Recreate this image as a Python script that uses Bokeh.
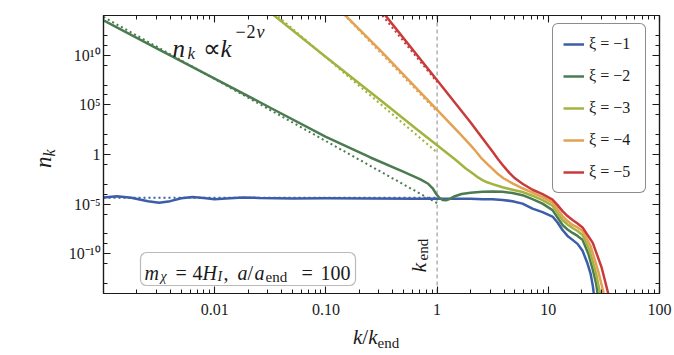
import math
from bokeh.plotting import figure
from bokeh.layouts import column, row
from bokeh.models import (Range1d, FixedTicker, LogAxis, Label, BoxAnnotation, Span, Title,
                          Legend, LegendItem, ColumnDataSource, Div, Spacer)
from bokeh.embed import file_html
from bokeh.resources import INLINE

# ---------------- data (log10 k/k_end, log10 n_k) ----------------
xi_values = [-1, -2, -3, -4, -5]
colors = ["#3c5da8", "#4b7b50", "#a3b340", "#e2a252", "#c93b3b"]

logk_xi1 = [-3.0, -2.88, -2.75, -2.6, -2.5, -2.4, -2.3, -2.2, -2.1, -2.0, -1.9, -1.75, -1.6,
            -1.3, -1.0, -0.6, -0.2, 0.1, 0.3, 0.408, 0.498, 0.588, 0.678, 0.768, 0.858,
            0.948, 1.038, 1.083, 1.128, 1.173, 1.218, 1.263, 1.308, 1.35, 1.38, 1.40, 1.415]
logn_xi1 = [-4.33, -4.2, -4.35, -4.7, -4.86, -4.7, -4.4, -4.28, -4.38, -4.5, -4.42, -4.32, -4.38,
            -4.42, -4.4, -4.42, -4.45, -4.45, -4.45, -4.5, -4.5, -4.58, -4.7, -4.95, -5.45,
            -5.8, -6.25, -6.85, -7.6, -8.2, -8.6, -9.0, -9.7, -10.9, -12.0, -13.2, -14.5]

logk_xi2 = [-3.0, -2.5, -2.0, -1.5, -1.0, -0.6, -0.3, -0.15, -0.08, -0.04, -0.01, 0.02, 0.05,
            0.08, 0.11, 0.16, 0.22, 0.3, 0.408, 0.498, 0.588, 0.678, 0.768, 0.858, 0.948,
            1.038, 1.083, 1.128, 1.173, 1.218, 1.263, 1.308, 1.36, 1.40, 1.43, 1.45]
logn_xi2 = [13.5, 10.57, 7.64, 4.71, 1.78, -0.3, -1.75, -2.5, -2.95, -3.4, -3.95, -4.35, -4.58,
            -4.62, -4.5, -4.2, -3.98, -3.85, -3.75, -3.72, -3.76, -3.87, -4.1, -4.5, -4.95,
            -5.6, -6.35, -7.1, -7.55, -7.9, -8.2, -8.6, -10.0, -11.6, -13.0, -14.5]

logk_xi3 = [-1.6, -1.0, -0.5, -0.2, 0.0, 0.1, 0.157, 0.2, 0.255, 0.318, 0.36, 0.408, 0.45,
            0.498, 0.588, 0.678, 0.768, 0.858, 0.948, 1.038, 1.083, 1.128, 1.173, 1.218,
            1.263, 1.308, 1.37, 1.43, 1.475]
logn_xi3 = [15.2, 9.83, 5.38, 2.7, 0.93, 0.05, -0.45, -0.85, -1.38, -1.9, -2.25, -2.58, -2.8,
            -2.98, -3.3, -3.55, -3.78, -4.15, -4.6, -5.15, -5.9, -6.6, -7.05, -7.4,
            -7.7, -8.1, -9.6, -12.0, -14.5]

logk_xi4 = [-0.9, -0.5, 0.0, 0.2, 0.3, 0.35, 0.4, 0.45, 0.498, 0.55, 0.6, 0.678, 0.768, 0.858,
            0.948, 1.038, 1.083, 1.128, 1.173, 1.218, 1.263, 1.308, 1.38, 1.45, 1.51]
logn_xi4 = [14.85, 10.35, 4.5, 2.15, 0.95, 0.3, -0.4, -0.95, -1.45, -2.0, -2.42, -2.9, -3.4, -3.85,
            -4.3, -4.85, -5.5, -6.2, -6.7, -7.1, -7.35, -7.7, -9.2, -11.8, -14.5]

logk_xi5 = [-0.5, 0.0, 0.2, 0.3, 0.408, 0.498, 0.55, 0.6, 0.65, 0.7, 0.768, 0.858, 0.948,
            1.038, 1.083, 1.128, 1.173, 1.218, 1.263, 1.308, 1.4, 1.48, 1.55]
logn_xi5 = [14.5, 7.47, 4.65, 3.25, 1.64, 0.3, -0.5, -1.2, -1.85, -2.4, -2.95, -3.55, -4.0,
            -4.55, -5.1, -5.7, -6.2, -6.6, -6.95, -7.35, -8.9, -11.4, -14.5]

# dotted asymptotes n_k ∝ k^{-2ν} (end points)
dot_logk = [[-3.0, 0.0], [-3.0, 0.0], [-1.6, 0.0], [-0.9, 0.0], [-0.55, 0.0]]
dot_logn = [[-4.35, -4.35], [13.85, -4.9], [15.53, 0.2], [14.83, 4.3], [14.78, 7.3]]

x_major = [1e-2, 1e-1, 1, 10, 100]
x_labels = {1e-2: "0.01", 1e-1: "0.10", 1: "1", 10: "10", 100: "100"}
y_major = [1e-10, 1e-5, 1, 1e5, 1e10]
y_labels = {1e-10: "10⁻¹⁰", 1e-5: "10⁻⁵", 1: "1", 1e5: "10⁵", 1e10: "10¹⁰"}

solid_logk = [logk_xi1, logk_xi2, logk_xi3, logk_xi4, logk_xi5]
solid_logn = [logn_xi1, logn_xi2, logn_xi3, logn_xi4, logn_xi5]

# ---------------- figure ----------------
FONT = "Liberation Serif"
INK = "#1a1a1a"

p = figure(frame_width=556, frame_height=278, x_axis_type="log", y_axis_type="log",
           x_range=Range1d(1e-3, 1e2), y_range=Range1d(1e-14, 1e14),
           output_backend="svg", toolbar_location=None,
           min_border_left=0, min_border_right=0, min_border_top=0, min_border_bottom=0)
p.xgrid.visible = False
p.ygrid.visible = False
p.outline_line_color = INK
p.outline_line_width = 1.2
p.background_fill_color = "white"
p.border_fill_color = "white"

x_minor = [m * 10.0 ** e for e in range(-3, 2) for m in range(2, 10)]
y_minor = [10.0 ** (5 * m + d) for m in range(-3, 3) for d in (1, 2, 4) if -14 < 5 * m + d < 14]


def style_axis(ax, ticker, labels, standoff):
    ax.ticker = ticker
    ax.major_tick_in = 7
    ax.major_tick_out = 0
    ax.minor_tick_in = 4
    ax.minor_tick_out = 0
    ax.axis_line_color = INK
    ax.axis_line_width = 1.2
    ax.major_tick_line_color = INK
    ax.minor_tick_line_color = INK
    ax.major_tick_line_width = 1.1
    ax.minor_tick_line_width = 1.0
    ax.major_label_text_font = FONT
    ax.major_label_text_font_size = "16px"
    ax.major_label_text_color = INK
    ax.major_label_standoff = standoff
    if labels is None:
        ax.major_label_text_font_size = "1px"
        ax.major_label_text_alpha = 0.0
    else:
        ax.major_label_overrides = labels


style_axis(p.below[0], FixedTicker(ticks=x_major, minor_ticks=x_minor), x_labels, 10)
style_axis(p.left[0], FixedTicker(ticks=y_major, minor_ticks=y_minor), y_labels, 3)

top_ax = LogAxis()
style_axis(top_ax, FixedTicker(ticks=x_major, minor_ticks=x_minor), None, 0)
p.add_layout(top_ax, "above")
right_ax = LogAxis()
style_axis(right_ax, FixedTicker(ticks=y_major, minor_ticks=y_minor), None, 0)
p.add_layout(right_ax, "right")
# blank right-hand strip so that the "100" tick label has room at the canvas edge
p.add_layout(Title(text=" ", text_font_size="11px", standoff=2), "right")

# vertical k = k_end line
p.add_layout(Span(location=1, dimension="height", line_color="#8c8c8c", line_width=1.0,
                  line_dash="4 3", level="underlay"))

# dotted asymptotes
for lk, ln, c in zip(dot_logk, dot_logn, colors):
    src = ColumnDataSource(dict(k=[10.0 ** v for v in lk], n=[10.0 ** v for v in ln]))
    p.line("k", "n", source=src, line_color=c, line_width=2.0, line_dash="2 3")

# solid curves
items = []
for lk, ln, c, xi in zip(solid_logk, solid_logn, colors, xi_values):
    src = ColumnDataSource(dict(k=[10.0 ** v for v in lk], n=[10.0 ** v for v in ln]))
    r = p.line("k", "n", source=src, line_color=c, line_width=2.5, line_join="round")
    items.append(LegendItem(label=f"ξ = −{abs(xi)}", renderers=[r]))

# ---------------- page-pixel -> data helper for annotation placement ----------------
FX0, FX1, FY0, FY1 = 101.0, 657.0, 17.0, 295.0


def at(px, py):
    lk = -3 + (px - FX0) / (FX1 - FX0) * 5
    ln = 14 - (py - FY0) / (FY1 - FY0) * 28
    return 10.0 ** lk, 10.0 ** ln


def put(text, px, py, size, italic=False, angle=0.0):
    x, y = at(px, py)
    p.add_layout(Label(x=x, y=y, text=text, text_font=FONT, text_font_size=f"{size}px",
                       text_font_style="italic" if italic else "normal", text_color=INK,
                       text_align="left", text_baseline="alphabetic", angle=angle))


# annotation box
bl, bt = at(138, 254)
br, bb = at(353, 287)
box_kw = dict(left=bl, right=br, top=bt, bottom=bb, fill_color="white", fill_alpha=1.0,
              line_color=INK, line_width=1.2)
if "border_radius" in BoxAnnotation.properties():
    box_kw["border_radius"] = 6
p.add_layout(BoxAnnotation(**box_kw))

# m_chi = 4 H_I,  a/a_end = 100
put("m", 142, 274, 20, True)
put("χ", 158, 278, 14, True)
put("=", 173, 274, 20)
put("4", 190, 274, 20)
put("H", 200, 274, 20, True)
put("I", 215, 278, 14, True)
put(",", 221, 274, 20)
put("a", 235, 274, 20, True)
put("/", 245, 274, 20)
put("a", 252, 274, 20, True)
put("end", 263, 278, 15)
put("=", 299, 274, 20)
put("100", 318, 274, 20)

# n_k ∝ k^{-2ν}
put("n", 170, 50, 25, True)
put("k", 185, 55, 17, True)
put("∝", 200, 50, 25)
put("k", 218, 50, 25, True)
put("−", 233, 33, 18)
put("2", 244, 33, 18)
put("ν", 254, 33, 18, True)

# k_end (rotated)
put("k", 416, 274, 22, True, math.pi / 2)
put("end", 420, 262, 15, False, math.pi / 2)

# legend (location = bottom-left corner of the legend, measured from the frame's bottom-left)
legend = Legend(items=items, location=(449, 100))
legend.border_line_color = INK
legend.border_line_width = 1.2
legend.background_fill_color = "white"
legend.background_fill_alpha = 1.0
legend.label_text_font = FONT
legend.label_text_font_size = "16px"
legend.label_text_color = INK
legend.glyph_width = 21
legend.glyph_height = 20
legend.label_height = 20
legend.label_width = 46
legend.label_standoff = 5
legend.spacing = 12
legend.padding = 10
legend.margin = 0
if "border_radius" in Legend.properties():
    legend.border_radius = 6
p.add_layout(legend)

# ---------------- axis titles as HTML text ----------------
ylab = Div(width=65, height=290, margin=0, text=(
    "<div style=\"position:relative;width:65px;height:290px;\">"
    "<div style=\"position:absolute;left:32px;top:153px;transform-origin:0 0;"
    "transform:rotate(-90deg);white-space:nowrap;font-family:'Liberation Serif';"
    "font-style:italic;font-size:23px;line-height:1;color:#1a1a1a;\">n"
    "<span style=\"font-size:16px;position:relative;top:4px;\">k</span></div></div>"))

xlab = Div(width=660, height=30, margin=0, text=(
    "<div style=\"position:relative;width:660px;height:30px;\">"
    "<div style=\"position:absolute;left:353px;top:10px;white-space:nowrap;"
    "font-family:'Liberation Serif';font-style:italic;font-size:21px;line-height:1;"
    "color:#1a1a1a;\">k<span style=\"font-style:normal;\">/</span>k"
    "<span style=\"font-style:normal;font-size:15px;position:relative;top:4px;\">end</span>"
    "</div></div>"))

layout = column(Spacer(height=15, width=10), row(ylab, p), xlab)

open("out.html", "w").write(file_html(layout, INLINE))
